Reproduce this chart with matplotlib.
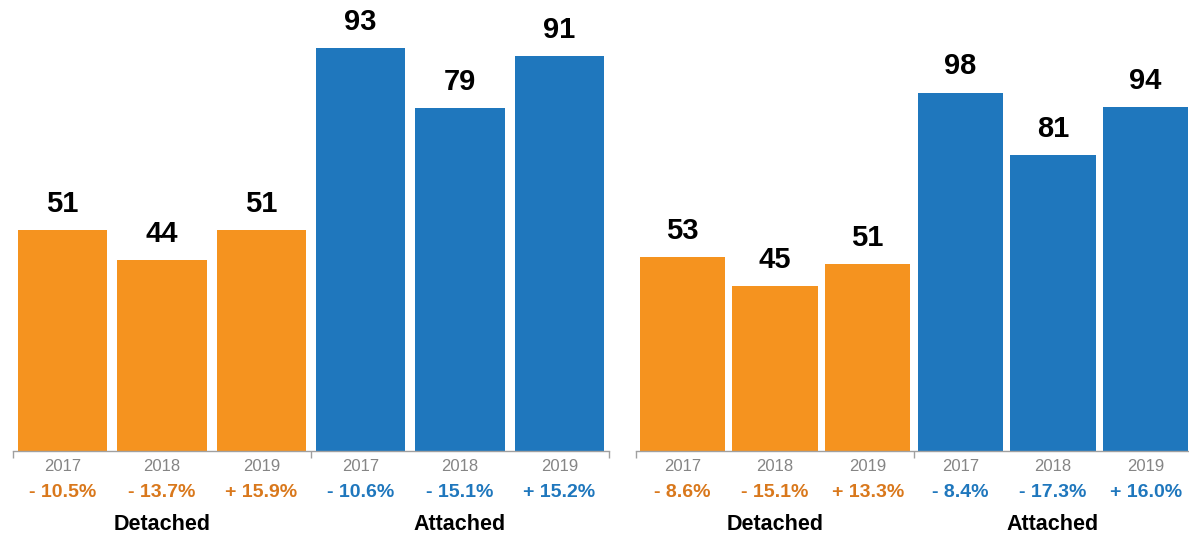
import matplotlib
matplotlib.use("Agg")
import matplotlib.pyplot as plt

plt.rcParams["font.family"] = ["Liberation Sans", "DejaVu Sans"]

# Data: two panels, each with Detached / Attached groups over three years
years = ["2017", "2018", "2019"]
groups = ["Detached", "Attached"]

left_detached = [51, 44, 51]
left_attached = [93, 79, 91]
left_detached_change = [-10.5, -13.7, 15.9]
left_attached_change = [-10.6, -15.1, 15.2]

right_detached = [53, 45, 51]
right_attached = [98, 81, 94]
right_detached_change = [-8.6, -15.1, 13.3]
right_attached_change = [-8.4, -17.3, 16.0]

ORANGE = "#F5931F"
BLUE = "#1F77BD"
ORANGE_TEXT = "#D9781C"
BLUE_TEXT = "#1F77BD"
AXIS_GREY = "#A0A0A0"


def fmt_change(v):
    sign = "+" if v > 0 else "-"
    return f"{sign} {abs(v):.1f}%"


def draw_panel(ax, detached, attached, det_change, att_change, ymax, width):
    values = detached + attached
    colors = [ORANGE] * len(detached) + [BLUE] * len(attached)
    text_colors = [ORANGE_TEXT] * len(detached) + [BLUE_TEXT] * len(attached)
    changes = det_change + att_change
    xs = list(range(len(values)))

    ax.bar(xs, values, width=width, color=colors, zorder=2)

    for x, v, c, tc, yr in zip(xs, values, changes, text_colors, years * 2):
        ax.annotate(str(v), xy=(x, v), xytext=(0, 13), textcoords="offset points",
                    ha="center", va="baseline", fontsize=21, fontweight="bold",
                    color="black")
        ax.annotate(yr, xy=(x, 0), xycoords=("data", "axes fraction"),
                    xytext=(0, -11), textcoords="offset points",
                    ha="center", va="center", fontsize=12, color="#858585")
        ax.annotate(fmt_change(c), xy=(x, 0), xycoords=("data", "axes fraction"),
                    xytext=(0, -30), textcoords="offset points",
                    ha="center", va="center", fontsize=14, fontweight="bold",
                    color=tc)

    for i, g in enumerate(groups):
        center = i * len(detached) + (len(detached) - 1) / 2
        ax.annotate(g, xy=(center, 0), xycoords=("data", "axes fraction"),
                    xytext=(0, -53), textcoords="offset points",
                    ha="center", va="center", fontsize=15.5, fontweight="bold",
                    color="black")

    n = len(values)
    ax.set_xlim(-0.5, n - 0.5)
    ax.set_ylim(0, ymax)
    for side in ["top", "right", "left"]:
        ax.spines[side].set_visible(False)
    ax.spines["bottom"].set_color(AXIS_GREY)
    ax.spines["bottom"].set_linewidth(1)
    ax.set_yticks([])
    ax.set_xticks([-0.5, len(detached) - 0.5, n - 0.5])
    ax.set_xticklabels([])
    ax.tick_params(axis="x", direction="out", length=5, width=1, color=AXIS_GREY)


fig = plt.figure(figsize=(11.89, 5.37), dpi=100)
W, H = 1189, 537
base = (H - 451) / H
height = 451 / H

ax_left = fig.add_axes([13 / W, base, (609 - 13) / W, height])
ax_right = fig.add_axes([636 / W, base, (1192 - 636) / W, height])

draw_panel(ax_left, left_detached, left_attached,
           left_detached_change, left_attached_change, ymax=104, width=0.9)
draw_panel(ax_right, right_detached, right_attached,
           right_detached_change, right_attached_change, ymax=123.3, width=0.92)

fig.savefig("out.png", dpi=100)
